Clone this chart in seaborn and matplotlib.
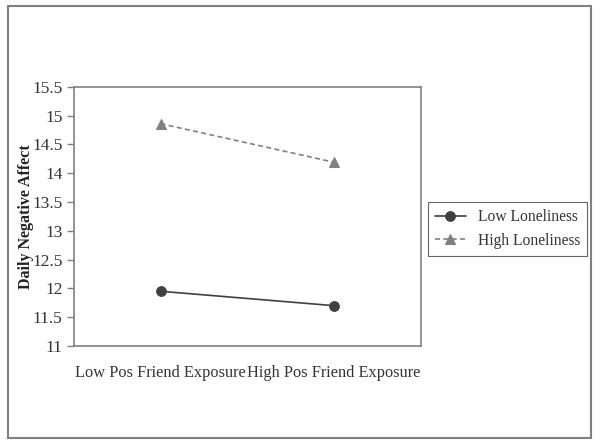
import matplotlib
matplotlib.use("Agg")
import matplotlib.pyplot as plt
import seaborn as sns
import pandas as pd
from matplotlib.patches import Rectangle

categories = ["Low Pos Friend Exposure", "High Pos Friend Exposure"]
low_loneliness = [11.95, 11.70]
high_loneliness = [14.86, 14.19]
series_names = ["Low Loneliness", "High Loneliness"]
y_ticks = [11, 11.5, 12, 12.5, 13, 13.5, 14, 14.5, 15, 15.5]

df = pd.DataFrame({
    "x": list(range(len(categories))) * 2,
    "y": low_loneliness + high_loneliness,
    "series": [series_names[0]] * len(categories) + [series_names[1]] * len(categories),
})

sns.set_theme(style="white")
plt.rcParams["font.family"] = ["Liberation Serif", "DejaVu Serif"]

fig = plt.figure(figsize=(6, 4.45), dpi=100)
ax = fig.add_axes([0.123, 0.2225, 0.578, 0.5825])

styles = {
    series_names[0]: dict(color="#404040", marker="o", linestyle="-", markersize=7),
    series_names[1]: dict(color="#808080", marker="^", linestyle=(0, (3, 2)), markersize=7),
}
for name in series_names:
    sub = df[df["series"] == name]
    st = styles[name]
    sns.lineplot(x=sub["x"], y=sub["y"], ax=ax, color=st["color"], marker=st["marker"],
                 linestyle=st["linestyle"], markersize=st["markersize"], linewidth=1.2,
                 markeredgecolor=st["color"], label=name)

ax.set_xlim(-0.5, len(categories) - 0.5)
ax.set_ylim(11, 15.5)
ax.set_yticks(y_ticks)
ax.set_yticklabels([f"{t:g}" for t in y_ticks], fontsize=12.5, color="#333333")
ax.set_xticks([-0.5, 0.5, 1.5])
ax.set_xticklabels([])
ax.set_xticks(range(len(categories)), minor=True)
ax.set_xticklabels(categories, minor=True, fontsize=11.8, color="#333333")
ax.tick_params(axis="x", which="major", direction="out", length=5, color="#808080", width=1)
ax.tick_params(axis="x", which="minor", length=0, pad=14)
ax.tick_params(axis="y", direction="out", length=5, color="#808080", width=1, pad=3, left=True)
ax.set_xlabel("")
ax.set_ylabel("Daily Negative Affect", fontsize=11.5, fontweight="bold", color="#222222", labelpad=-1)
for s in ax.spines.values():
    s.set_color("#808080")
    s.set_linewidth(1.2)

leg = ax.legend(loc="upper left", bbox_to_anchor=(1.02, 0.555), borderaxespad=0,
                frameon=True, fancybox=False,
                fontsize=11.2, handlelength=2.0, borderpad=0.45, labelspacing=0.5,
                edgecolor="#404040")
leg.get_frame().set_linewidth(0.8)
for t in leg.get_texts():
    t.set_color("#333333")

fig.patches.append(Rectangle((8/600, 1-438/445), (591-8)/600, (438-6)/445,
                             transform=fig.transFigure, fill=False,
                             edgecolor="#808080", linewidth=1.5))

fig.savefig("out.png", dpi=100)
